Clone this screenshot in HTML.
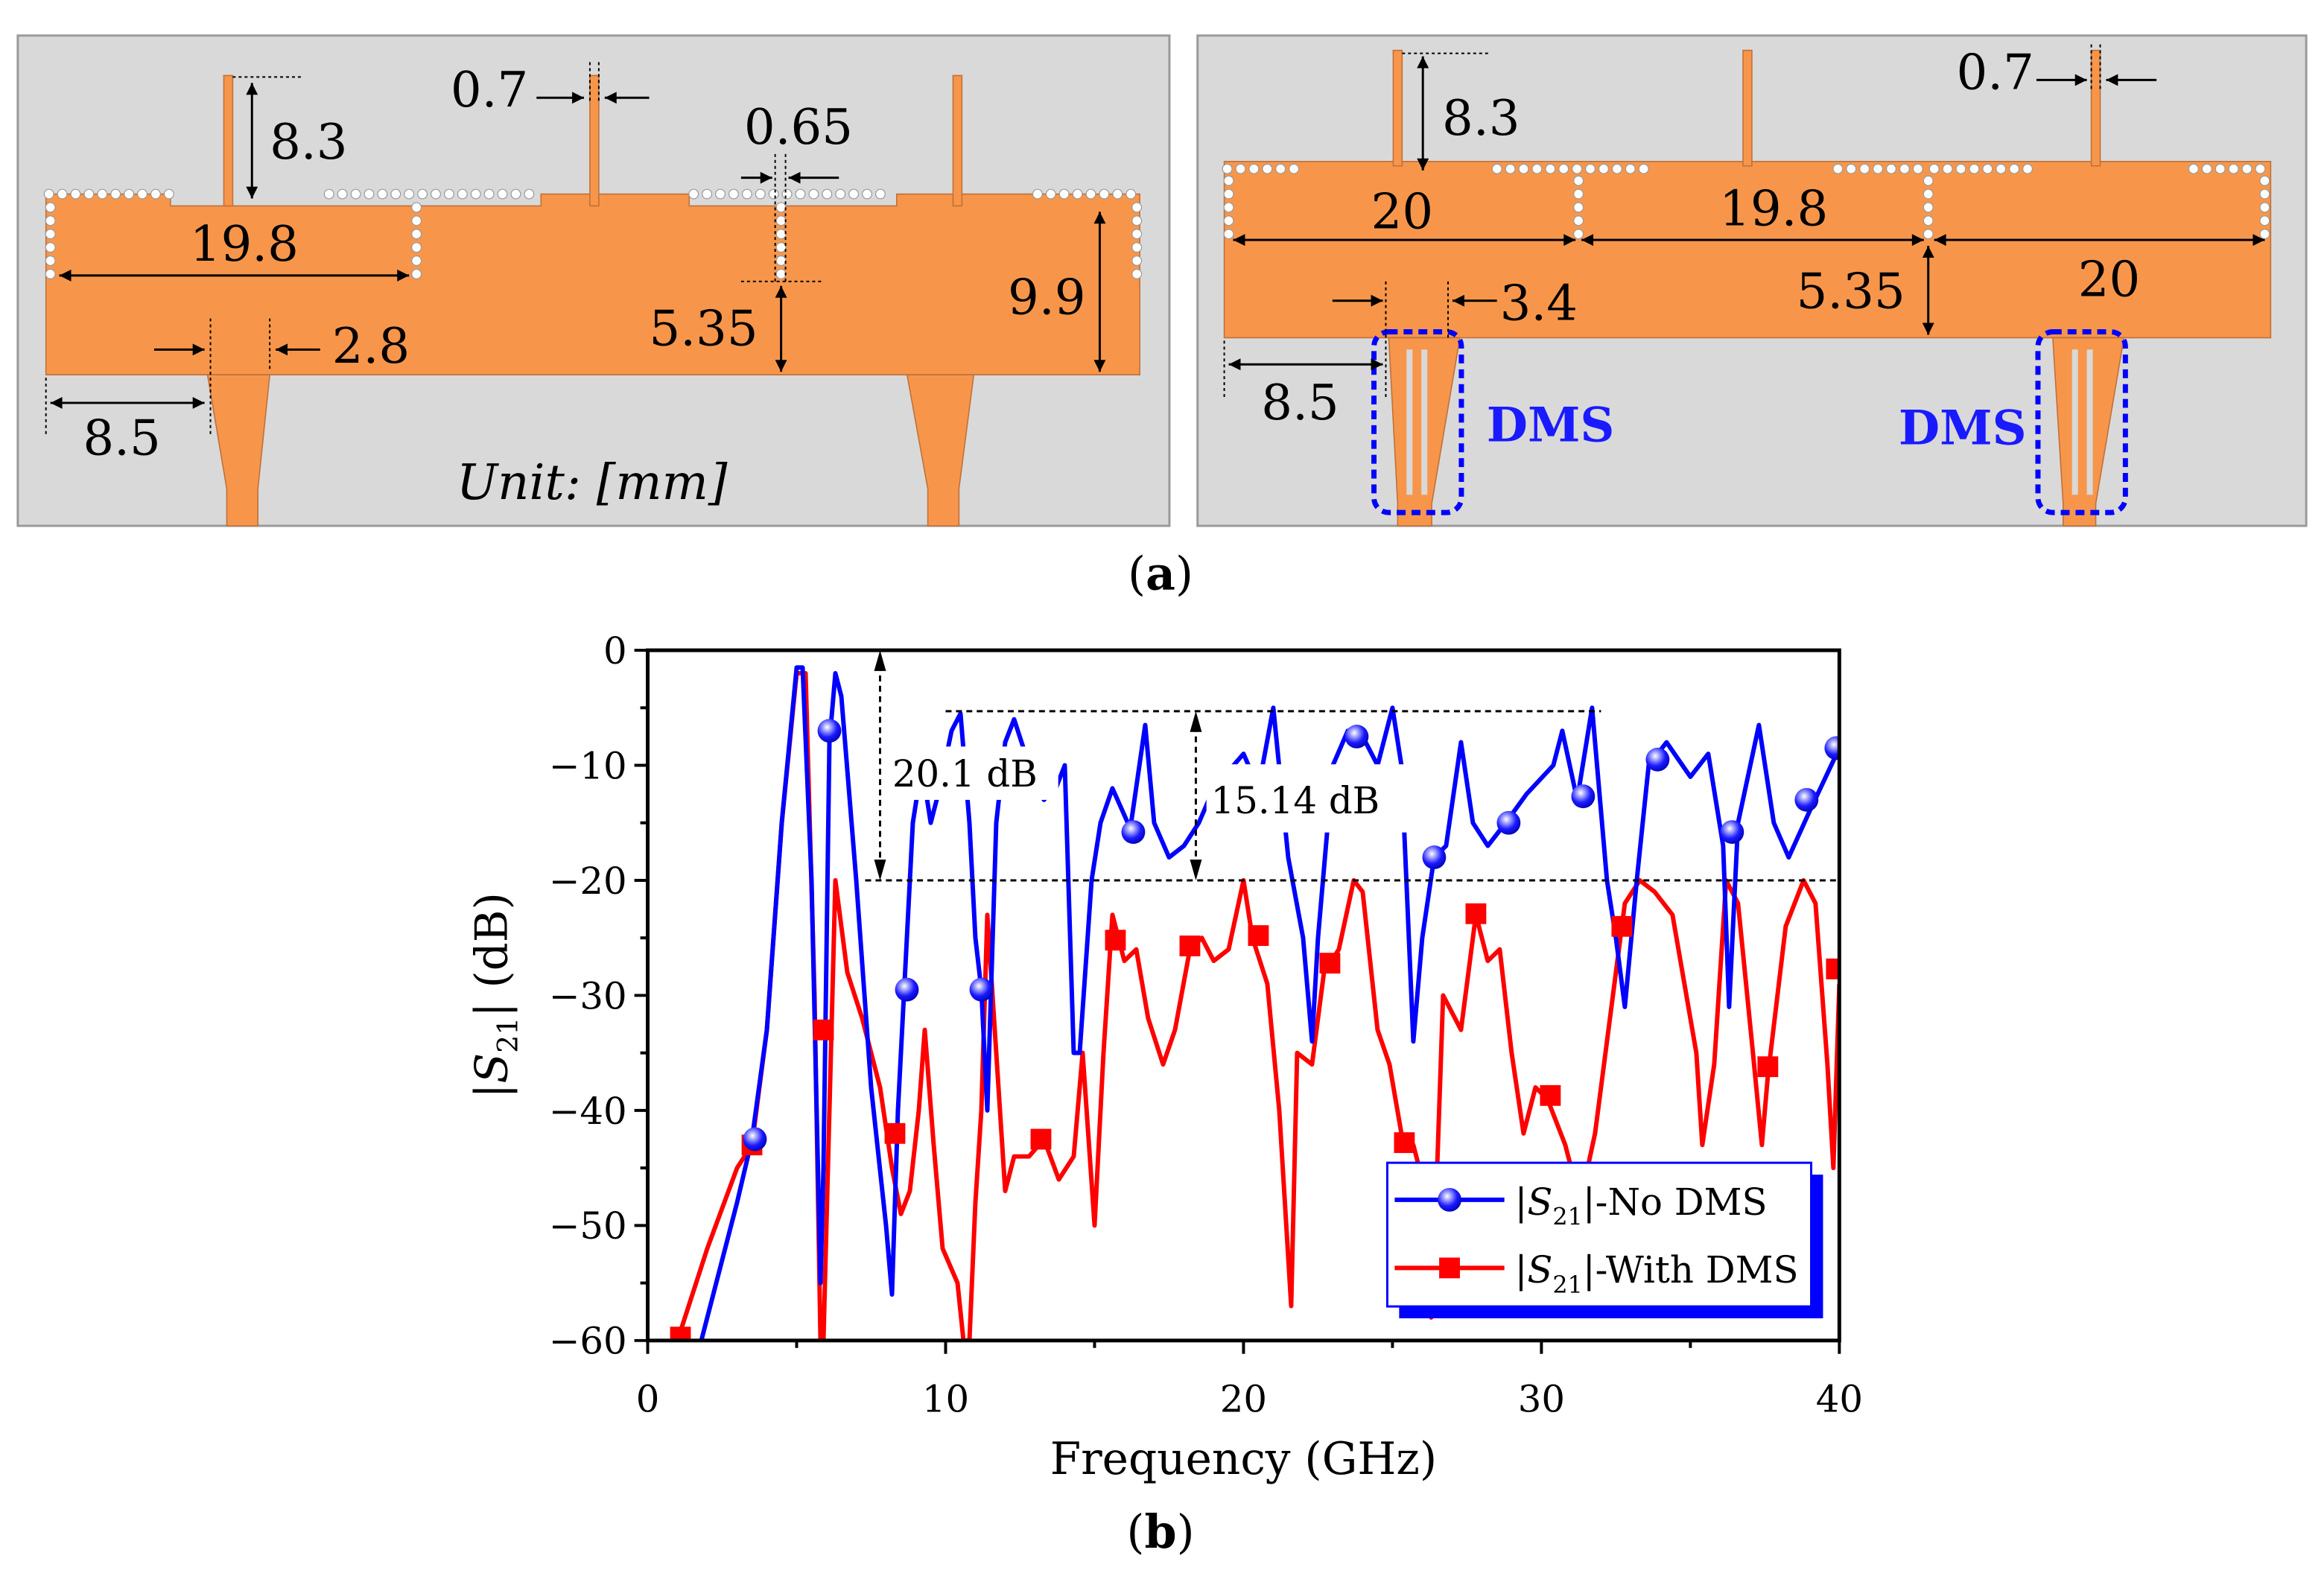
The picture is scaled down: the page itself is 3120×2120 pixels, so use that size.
<!DOCTYPE html>
<html><head><meta charset="utf-8">
<style>
html,body{margin:0;padding:0;background:#fff;}
svg{display:block;}
text{font-family:"DejaVu Serif","Liberation Serif",serif;}
</style></head>
<body>
<svg id="fig" width="3120" height="2120" viewBox="0 0 1568 1066" preserveAspectRatio="none" xmlns="http://www.w3.org/2000/svg">
<defs>
<radialGradient id="ball" cx="0.4" cy="0.35" r="0.7">
<stop offset="0" stop-color="#ffffff"/><stop offset="0.25" stop-color="#a0a0ff"/><stop offset="0.6" stop-color="#1a1aff"/><stop offset="1" stop-color="#0000b0"/>
</radialGradient>
<marker id="ah" viewBox="0 0 10 10" refX="10" refY="5" markerWidth="12" markerHeight="8" markerUnits="userSpaceOnUse" orient="auto-start-reverse">
<path d="M0,0 L10,5 L0,10 z" fill="#000"/>
</marker>
<clipPath id="plotclip"><rect x="437" y="439" width="804" height="466"/></clipPath>
</defs>

<!-- ===== Panel (a) left ===== -->
<g>
<rect x="12" y="24" width="777" height="331" fill="#d9d9d9" stroke="#9a9a9a" stroke-width="1.5"/>
<g fill="#f7964a" stroke="#c0703a" stroke-width="0.8">
<polygon points="31,131 115,131 115,139 365,139 365,131 465,131 465,139 605,139 605,131 769,131 769,253 31,253"/>
<rect x="151" y="51" width="6" height="88"/>
<rect x="398" y="51" width="6" height="88"/>
<rect x="643" y="51" width="6" height="88"/>
<polygon points="140,253 182,253 174,330 174,355 153,355 153,330"/>
<polygon points="612,253 657,253 647,330 647,355 626,355 626,330"/>
</g>
<g fill="#fff" stroke="#999" stroke-width="0.6" id="dotsL"></g>
<g stroke="#000" stroke-width="1.5" fill="none">
<line x1="40" y1="186" x2="276" y2="186" marker-start="url(#ah)" marker-end="url(#ah)"/>
<line x1="170" y1="56" x2="170" y2="134" marker-start="url(#ah)" marker-end="url(#ah)"/>
<line x1="742" y1="143" x2="742" y2="251" marker-start="url(#ah)" marker-end="url(#ah)"/>
<line x1="527" y1="193" x2="527" y2="251" marker-start="url(#ah)" marker-end="url(#ah)"/>
<line x1="34" y1="272" x2="138" y2="272" marker-start="url(#ah)" marker-end="url(#ah)"/>
<line x1="104" y1="236" x2="138" y2="236" marker-end="url(#ah)"/>
<line x1="216" y1="236" x2="186" y2="236" marker-end="url(#ah)"/>
<line x1="362" y1="66" x2="394" y2="66" marker-end="url(#ah)"/>
<line x1="438" y1="66" x2="408" y2="66" marker-end="url(#ah)"/>
<line x1="500" y1="120" x2="521" y2="120" marker-end="url(#ah)"/>
<line x1="566" y1="120" x2="532" y2="120" marker-end="url(#ah)"/>
</g>
<g stroke="#000" stroke-width="1" stroke-dasharray="2,2" fill="none">
<line x1="157" y1="52" x2="205" y2="52"/>
<line x1="142" y1="215" x2="142" y2="295"/>
<line x1="182" y1="215" x2="182" y2="250"/>
<line x1="31" y1="255" x2="31" y2="295"/>
<line x1="398" y1="42" x2="398" y2="70"/><line x1="404" y1="42" x2="404" y2="70"/>
<line x1="523" y1="104" x2="523" y2="190"/><line x1="530" y1="104" x2="530" y2="190"/>
<line x1="500" y1="190" x2="555" y2="190"/>
</g>
<g fill="#000" font-size="33">
<text x="182" y="107">8.3</text>
<text x="128" y="176">19.8</text>
<text x="680" y="212">9.9</text>
<text x="438" y="233">5.35</text>
<text x="224" y="245">2.8</text>
<text x="56" y="307">8.5</text>
<text x="304" y="72">0.7</text>
<text x="502" y="97">0.65</text>
<text x="308" y="337" font-style="italic">Unit: [mm]</text>
</g>
</g>

<!-- ===== Panel (a) right ===== -->
<g>
<rect x="808" y="24" width="748" height="331" fill="#d9d9d9" stroke="#9a9a9a" stroke-width="1.5"/>
<g fill="#f7964a" stroke="#c0703a" stroke-width="0.8">
<polygon points="826,109 1532,109 1532,228 826,228"/>
<rect x="940" y="34" width="6" height="78"/>
<rect x="1176" y="34" width="6" height="78"/>
<rect x="1411" y="34" width="6" height="78"/>
<polygon points="937,228 985,228 966,340 966,355 943,355 943,340"/>
<polygon points="1385,228 1433,228 1414,340 1414,355 1392,355 1392,340"/>
</g>
<g fill="#d9d9d9">
<rect x="949" y="236" width="4" height="98"/><rect x="959" y="236" width="4" height="98"/>
<rect x="1398" y="236" width="4" height="98"/><rect x="1408" y="236" width="4" height="98"/>
</g>
<g fill="#fff" stroke="#999" stroke-width="0.6" id="dotsR"></g>
<g fill="none" stroke="#0000ff" stroke-width="3.5" stroke-dasharray="6,4">
<rect x="927" y="224" width="59" height="122" rx="10"/>
<rect x="1375" y="224" width="59" height="122" rx="10"/>
</g>
<g stroke="#000" stroke-width="1.5" fill="none">
<line x1="960" y1="38" x2="960" y2="115" marker-start="url(#ah)" marker-end="url(#ah)"/>
<line x1="832" y1="162" x2="1063" y2="162" marker-start="url(#ah)" marker-end="url(#ah)"/>
<line x1="1067" y1="162" x2="1298" y2="162" marker-start="url(#ah)" marker-end="url(#ah)"/>
<line x1="1305" y1="162" x2="1528" y2="162" marker-start="url(#ah)" marker-end="url(#ah)"/>
<line x1="1301" y1="166" x2="1301" y2="226" marker-start="url(#ah)" marker-end="url(#ah)"/>
<line x1="829" y1="246" x2="933" y2="246" marker-start="url(#ah)" marker-end="url(#ah)"/>
<line x1="899" y1="203" x2="933" y2="203" marker-end="url(#ah)"/>
<line x1="1010" y1="203" x2="980" y2="203" marker-end="url(#ah)"/>
<line x1="1374" y1="54" x2="1408" y2="54" marker-end="url(#ah)"/>
<line x1="1455" y1="54" x2="1421" y2="54" marker-end="url(#ah)"/>
</g>
<g stroke="#000" stroke-width="1" stroke-dasharray="2,2" fill="none">
<line x1="946" y1="36" x2="1004" y2="36"/>
<line x1="935" y1="190" x2="935" y2="270"/>
<line x1="977" y1="190" x2="977" y2="228"/>
<line x1="826" y1="230" x2="826" y2="268"/>
<line x1="1411" y1="30" x2="1411" y2="60"/><line x1="1417" y1="30" x2="1417" y2="60"/>
</g>
<g fill="#000" font-size="33">
<text x="973" y="91">8.3</text>
<text x="925" y="154">20</text>
<text x="1160" y="152">19.8</text>
<text x="1402" y="200">20</text>
<text x="1212" y="208">5.35</text>
<text x="1012" y="216">3.4</text>
<text x="851" y="283">8.5</text>
<text x="1320" y="60">0.7</text>
</g>
<g fill="#1a1aff" font-size="32" font-weight="bold">
<text x="1003" y="298">DMS</text>
<text x="1281" y="300">DMS</text>
</g>
</g>

<text x="783" y="398" font-size="31" text-anchor="middle">(<tspan font-weight="bold">a</tspan>)</text>
<text x="783" y="1045" font-size="31" text-anchor="middle">(<tspan font-weight="bold">b</tspan>)</text>

<!-- ===== Chart (b) ===== -->
<g id="chart">
<g id="seriesLayer" clip-path="url(#plotclip)"></g>
<g id="annot"></g>
<g id="axes"></g>
<g id="legend"></g>
</g>
</svg>

<script>
// ---- chart data ----
const yTicks = [0, -10, -20, -30, -40, -50, -60];
const yTickLabels = ["0", "\u221210", "\u221220", "\u221230", "\u221240", "\u221250", "\u221260"];
const xTicks = [0, 10, 20, 30, 40];
const xTickLabels = ["0", "10", "20", "30", "40"];

const blueFreq = [1.8,3,3.5,4,4.5,5,5.2,5.5,5.8,5.9,6.1,6.3,6.5,7,7.5,8,8.2,8.4,8.6,8.9,9.2,9.5,9.8,10.2,10.5,10.8,11,11.2,11.4,11.7,12,12.3,12.8,13.3,13.7,14,14.3,14.5,14.9,15.2,15.6,16.2,16.7,17,17.5,18,18.5,19,20,20.5,21,21.5,22,22.3,22.5,23,23.5,24,24.5,25,25.3,25.7,26,26.4,26.8,27.3,27.7,28.2,28.8,29.5,30.4,30.7,31.2,31.7,32.2,32.5,32.8,33.2,33.6,34.2,35,35.6,36.1,36.3,36.6,37.3,37.8,38.3,39,40];
const blueDb = [-60,-48,-42.5,-33,-15,-1.5,-1.5,-20,-55,-45,-8,-2,-4,-20,-38,-50,-56,-40,-30,-15,-10,-15,-12,-7,-5.5,-15,-25,-29.5,-40,-15,-8,-6,-10,-13,-12,-10,-35,-35,-20,-15,-12,-15.5,-6.5,-15,-18,-17,-15,-12,-9,-12,-5,-18,-25,-34,-25,-10,-7,-7.5,-10,-5,-10,-34,-25,-18,-17,-8,-15,-17,-15,-12.5,-10,-7,-13,-5,-20,-25,-31,-20,-10,-8,-11,-9,-17,-31,-15,-6.5,-15,-18,-14,-8.5];
const blueMarkFreq = [3.6,6.1,8.7,11.2,16.3,23.8,26.4,28.9,31.4,33.9,36.4,38.9,39.9];
const blueMarkDb = [-42.5,-7,-29.5,-29.5,-15.8,-7.5,-18,-15,-12.7,-9.5,-15.8,-13,-8.5];

const redFreq = [1,2,3,3.5,4,4.5,5,5.3,5.6,5.8,5.9,6.3,6.7,7.2,7.8,8.2,8.5,8.8,9.1,9.3,9.6,9.9,10.4,10.6,10.8,11,11.2,11.4,11.7,12,12.3,12.8,13.3,13.8,14.3,14.6,15,15.3,15.6,16,16.4,16.8,17.3,17.7,18.2,18.6,19,19.5,20,20.3,20.8,21.2,21.6,21.8,22.3,22.7,23.2,23.7,24,24.5,24.9,25.3,25.7,26.2,26.3,26.5,26.7,27.3,27.8,28.2,28.6,29,29.4,29.8,30.2,30.8,31.3,31.8,32.4,32.8,33.3,33.8,34.4,35.2,35.4,35.8,36.2,36.6,37.1,37.4,37.6,38.2,38.8,39.2,39.6,39.8,40];
const redDb = [-60,-52,-45,-43,-33,-15,-2,-2,-30,-60,-60,-20,-28,-32,-38,-45,-49,-47,-40,-33,-43,-52,-55,-60,-60,-48,-40,-23,-35,-47,-44,-44,-42.5,-46,-44,-35,-50,-35,-23,-27,-26,-32,-36,-33,-26,-25,-27,-26,-20,-25,-29,-40,-57,-35,-36,-28,-26,-20,-21,-33,-36,-42,-43,-48,-58,-45,-30,-33,-23,-27,-26,-35,-42,-38,-39,-43,-48,-42,-30,-22,-20,-21,-23,-35,-43,-36,-20,-22,-35,-43,-37,-24,-20,-22,-36,-45,-29];
const redMarkFreq = [1.1,3.5,5.9,8.3,13.2,15.7,18.2,20.5,22.9,25.4,27.8,30.3,32.7,37.6,39.9];
const redMarkDb = [-59.7,-43,-33,-42,-42.5,-25.2,-25.7,-24.8,-27.2,-42.8,-22.9,-38.7,-24,-36.2,-27.7];

// ---- axis functions ----
const X0 = 437, X1 = 1241, Y0 = 439, Y1 = 905;
const xMin = 0, xMax = 40, yMin = -60, yMax = 0;
function sx(v){ return X0 + (v - xMin) / (xMax - xMin) * (X1 - X0); }
function sy(v){ return Y0 + (yMax - v) / (yMax - yMin) * (Y1 - Y0); }

const NS = "http://www.w3.org/2000/svg";
function mk(tag, attrs, parent){
  const e = document.createElementNS(NS, tag);
  for (const k in attrs) e.setAttribute(k, attrs[k]);
  parent.appendChild(e);
  return e;
}

// dots on layout (decorative vias)
(function(){
  const gl = document.getElementById('dotsL');
  const rowsL = [[33,115,131],[222,360,131],[468,600,131],[700,768,131]];
  rowsL.forEach(r=>{ for(let x=r[0]; x<=r[1]; x+=9){ const c=mk('circle',{cx:x,cy:r[2],r:3.2},gl);
    
     } });
  for(let y=140;y<=186;y+=9){ [34,281,527,767].forEach(x=>{ const c=mk('circle',{cx:x,cy:y,r:3.2},gl);
    
     }); }
  const gr = document.getElementById('dotsR');
  const rowsR = [[828,880,114],[1010,1110,114],[1240,1298,114],[1305,1370,114],[1480,1528,114]];
  rowsR.forEach(r=>{ for(let x=r[0]; x<=r[1]; x+=9){ const c=mk('circle',{cx:x,cy:r[2],r:3.2},gr);
    
     } });
  for(let y=122;y<=160;y+=9){ [829,1065,1301,1528].forEach(x=>{ const c=mk('circle',{cx:x,cy:y,r:3.2},gr);
    
     }); }
})();

const sl = document.getElementById('seriesLayer');
function drawSeries(fr, db, color, name){
  let d = '';
  for (let i=0;i<fr.length;i++) d += (i?'L':'M') + sx(fr[i]).toFixed(2) + ',' + sy(db[i]).toFixed(2);
  const p = mk('path', {d:d, fill:'none', stroke:color, 'stroke-width':3, 'stroke-linejoin':'round'}, sl);
  
  
}
drawSeries(redFreq, redDb, '#ff0000', 'series-with-dms-line');
drawSeries(blueFreq, blueDb, '#0000ff', 'series-no-dms-line');

for (let i=0;i<redMarkFreq.length;i++){
  const r = mk('rect', {x:sx(redMarkFreq[i])-7, y:sy(redMarkDb[i])-7, width:14, height:14, fill:'#ff0000'}, sl);
  
  
}
for (let i=0;i<blueMarkFreq.length;i++){
  const c = mk('circle', {cx:sx(blueMarkFreq[i]), cy:sy(blueMarkDb[i]), r:8, fill:'url(#ball)'}, sl);
  
  
}

// annotations
const an = document.getElementById('annot');
[[{x1:sx(10),y1:sy(-5.3),x2:sx(32),y2:sy(-5.3)},'ref-line-top'],[{x1:sx(7.3),y1:sy(-20),x2:sx(40),y2:sy(-20)},'ref-line-20db']].forEach(a=>{
  const l = mk('line', Object.assign({stroke:'#000','stroke-width':1.5,'stroke-dasharray':'4,3'}, a[0]), an);
  
  
});
function vArrow(x, ya, yb, name){
  const g = mk('g', {}, an);
  
  
  mk('line', {x1:x, y1:ya+10, x2:x, y2:yb-10, stroke:'#000','stroke-width':1.5,'stroke-dasharray':'4,3'}, g);
  mk('polygon', {points:`${x},${ya} ${x-4},${ya+14} ${x+4},${ya+14}`, fill:'#000'}, g);
  mk('polygon', {points:`${x},${yb} ${x-4},${yb-14} ${x+4},${yb-14}`, fill:'#000'}, g);
}
vArrow(sx(7.8), sy(0), sy(-20), 'arrow-20-1-db');
vArrow(sx(18.4), sy(-5.3), sy(-20), 'arrow-15-14-db');
const b1 = mk('rect', {x:598, y:504, width:116, height:36, fill:'#fff'}, an);
 
const b2 = mk('rect', {x:814, y:516, width:136, height:46, fill:'#fff'}, an);
 
const t1 = mk('text', {x:602, y:531, 'font-size':25}, an); t1.textContent = '20.1 dB';
 
const t2 = mk('text', {x:817, y:549, 'font-size':25}, an); t2.textContent = '15.14 dB';
 

// axes
const ax = document.getElementById('axes');
const frame = mk('rect', {x:X0, y:Y0, width:X1-X0, height:Y1-Y0, fill:'none', stroke:'#000', 'stroke-width':2.5}, ax);
 
for (let i=0;i<yTicks.length;i++){
  const y = sy(yTicks[i]);
  mk('line', {x1:X0-9, y1:y, x2:X0, y2:y, stroke:'#000','stroke-width':2}, ax);
  if (i < yTicks.length-1) { const ym = sy(yTicks[i]-5); mk('line', {x1:X0-5, y1:ym, x2:X0, y2:ym, stroke:'#000','stroke-width':2}, ax); }
  const t = mk('text', {x:X0-14, y:y+9, 'font-size':25, 'text-anchor':'end'}, ax);
  t.textContent = yTickLabels[i];
   
}
for (let i=0;i<xTicks.length;i++){
  const x = sx(xTicks[i]);
  mk('line', {x1:x, y1:Y1, x2:x, y2:Y1+9, stroke:'#000','stroke-width':2}, ax);
  if (i < xTicks.length-1) { const xm = sx(xTicks[i]+5); mk('line', {x1:xm, y1:Y1, x2:xm, y2:Y1+5, stroke:'#000','stroke-width':2}, ax); }
  const t = mk('text', {x:x, y:Y1+48, 'font-size':25, 'text-anchor':'middle'}, ax);
  t.textContent = xTickLabels[i];
   
}
const xt = mk('text', {x:839, y:995, 'font-size':30, 'text-anchor':'middle'}, ax);
xt.textContent = 'Frequency (GHz)';
 
const yt = mk('text', {x:0, y:0, 'font-size':30, 'text-anchor':'middle', transform:'translate(342,672) rotate(-90)'}, ax);
yt.innerHTML = '|<tspan font-style="italic">S</tspan><tspan font-size="19" dy="7">21</tspan><tspan dy="-7">| (dB)</tspan>';
 

// legend
const lg = document.getElementById('legend');
 
mk('rect', {x:944, y:793, width:286, height:97, fill:'#0000ff'}, lg);
mk('rect', {x:936, y:785, width:286, height:97, fill:'#fff', stroke:'#0000ff','stroke-width':1.5}, lg);
const e1 = mk('g', {}, lg);
 
mk('line', {x1:941, y1:810, x2:1015, y2:810, stroke:'#0000ff','stroke-width':3}, e1);
mk('circle', {cx:978, cy:810, r:8, fill:'url(#ball)'}, e1);
const l1 = mk('text', {x:1022, y:820, 'font-size':25}, e1);
l1.innerHTML = '|<tspan font-style="italic">S</tspan><tspan font-size="16" dy="7">21</tspan><tspan dy="-7">|-No DMS</tspan>';
const e2 = mk('g', {}, lg);
 
mk('line', {x1:941, y1:856, x2:1015, y2:856, stroke:'#ff0000','stroke-width':3}, e2);
mk('rect', {x:971, y:849, width:14, height:14, fill:'#ff0000'}, e2);
const l2 = mk('text', {x:1022, y:866, 'font-size':25}, e2);
l2.innerHTML = '|<tspan font-style="italic">S</tspan><tspan font-size="16" dy="7">21</tspan><tspan dy="-7">|-With DMS</tspan>';
</script>
</body></html>
